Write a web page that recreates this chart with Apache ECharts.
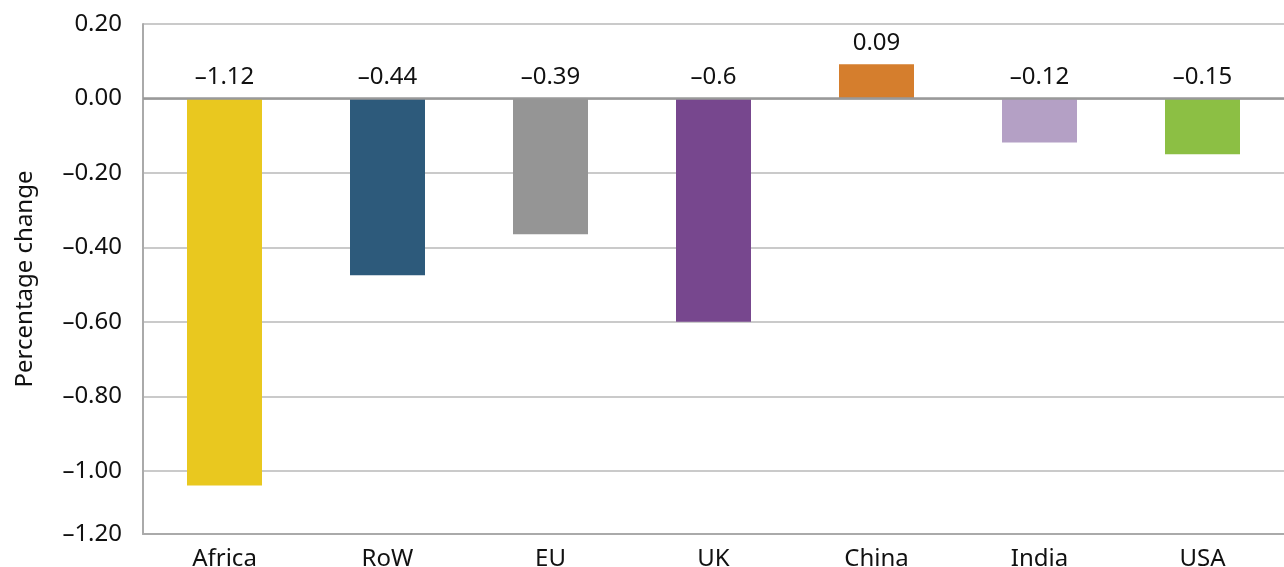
<!DOCTYPE html>
<html>
<head>
<meta charset="utf-8">
<script src="https://cdn.jsdelivr.net/npm/echarts@6/dist/echarts.min.js"></script>
<style>
html,body{margin:0;padding:0;background:#fff;}
#chart{width:1284px;height:567px;}
</style>
</head>
<body>
<div id="chart"></div>
<script>
// Data
const categories = ["Africa", "RoW", "EU", "UK", "China", "India", "USA"];
const barValues = [-1.04, -0.475, -0.365, -0.60, 0.092, -0.118, -0.15];
const barLabels = ["\u20131.12", "\u20130.44", "\u20130.39", "\u20130.6", "0.09", "\u20130.12", "\u20130.15"];
const barColors = ["#E9C81F", "#2D5A7B", "#959595", "#77478E", "#D57E2D", "#B4A0C5", "#8CBF44"];
const tickValues = [0.2, 0, -0.2, -0.4, -0.6, -0.8, -1.0, -1.17];
const tickLabels = ["0.20", "0.00", "\u20130.20", "\u20130.40", "\u20130.60", "\u20130.80", "\u20131.00", "\u20131.20"];
const yMin = -1.17, yMax = 0.2;
const yTitle = "Percentage change";

const font = "'Noto Sans', sans-serif";
const textColor = "#111111";

const chart = echarts.init(document.getElementById('chart'), null, {renderer: 'canvas'});
chart.setOption({
  animation: false,
  grid: {left: 143, right: 0, top: 24, bottom: 33, containLabel: false, outerBoundsMode: 'none'},
  xAxis: {
    type: 'category',
    data: categories,
    axisLine: {onZero: false, lineStyle: {color: '#aaaaaa', width: 2}},
    axisTick: {show: false},
    axisLabel: {color: textColor, fontFamily: font, fontSize: 24, margin: 13},
    splitLine: {show: false}
  },
  yAxis: {
    type: 'value',
    min: yMin,
    max: yMax,
    name: yTitle,
    nameLocation: 'middle',
    nameGap: 106,
    nameTextStyle: {color: textColor, fontFamily: font, fontSize: 24},
    axisLine: {show: true, lineStyle: {color: '#aaaaaa', width: 2}},
    axisTick: {show: false, customValues: tickValues},
    axisLabel: {
      color: textColor, fontFamily: font, fontSize: 24, margin: 21,
      customValues: tickValues,
      formatter: function (v) {
        let best = 0, d = Infinity;
        tickValues.forEach(function (t, i) { const dd = Math.abs(t - v); if (dd < d) { d = dd; best = i; } });
        return tickLabels[best];
      }
    },
    splitLine: {show: true, lineStyle: {color: '#b9b9b9', width: 1.5}}
  },
  series: [
    {
      type: 'bar',
      z: 3,
      data: barValues.map(function (v, i) { return {value: v, itemStyle: {color: barColors[i]}}; }),
      barWidth: 75,
      markLine: {
        silent: true,
        symbol: 'none',
        label: {show: false},
        lineStyle: {color: '#999999', width: 2.5, type: 'solid'},
        data: [{yAxis: 0}]
      }
    },
    {
      type: 'scatter',
      z: 1,
      data: barValues.map(function (v, i) { return {value: Math.max(v, 0), label: {formatter: barLabels[i]}}; }),
      symbolSize: 1,
      itemStyle: {color: '#ffffff', opacity: 1},
      silent: true,
      label: {show: true, position: 'top', distance: 9, color: textColor, opacity: 1, fontFamily: font, fontSize: 24}
    }
  ]
});
</script>
</body>
</html>
